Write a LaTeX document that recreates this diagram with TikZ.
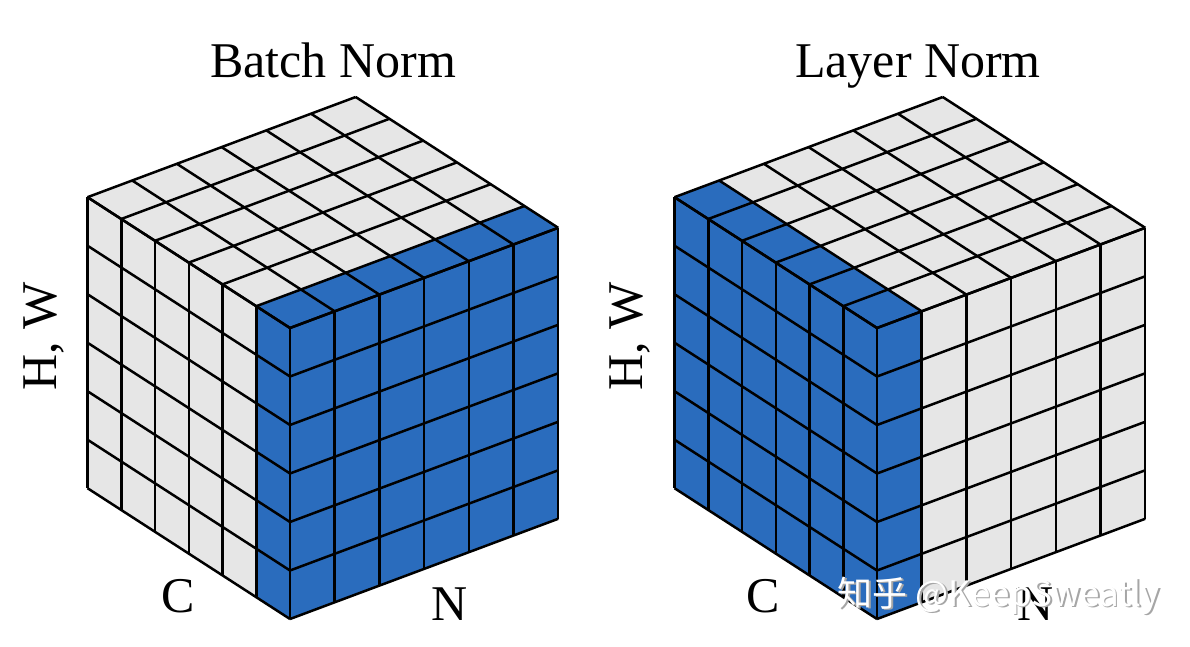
\documentclass[tikz,border=0pt]{standalone}
\usepackage{fontspec}
\setmainfont{Liberation Serif}
\newfontfamily\zhfont{Noto Sans CJK SC}
\definecolor{cellblue}{RGB}{42,108,189}
\definecolor{cellgray}{RGB}{230,230,230}

\begin{document}
\begin{tikzpicture}[x=0.5pt, y=-0.5pt, line width=1.25pt, line join=round,
    axislabel/.style={font=\fontsize{25}{30}\selectfont, anchor=base},
    celllines/.style={draw=black, line width=1.25pt}]
  \useasboundingbox (0,0) rectangle (1190,647);
  % front top corners of the two cubes
  \coordinate (bnF) at (290,328);
  \coordinate (lnF) at (877,328);

  % Batch Norm cube
  \fill[cellgray] (bnF) -- ++(-202.5,-130.8) -- ++(0,291) -- ++(202.5,130.8) -- cycle;
  \fill[cellblue] (bnF) -- ++(-33.75,-21.8) -- ++(0,291) -- ++(33.75,21.8) -- cycle;
  \fill[cellblue] (bnF) -- ++(268.2,-100.2) -- ++(0,291) -- ++(-268.2,100.2) -- cycle;
  \fill[cellgray] (bnF) -- ++(-202.5,-130.8) -- ++(268.2,-100.2) -- ++(202.5,130.8) -- cycle;
  \fill[cellblue] (bnF) -- ++(-33.75,-21.8) -- ++(268.2,-100.2) -- ++(33.75,21.8) -- cycle;

  % Layer Norm cube
  \fill[cellblue] (lnF) -- ++(-202.5,-130.8) -- ++(0,291) -- ++(202.5,130.8) -- cycle;
  \fill[cellgray] (lnF) -- ++(268.2,-100.2) -- ++(0,291) -- ++(-268.2,100.2) -- cycle;
  \fill[cellblue] (lnF) -- ++(44.7,-16.7) -- ++(0,291) -- ++(-44.7,16.7) -- cycle;
  \fill[cellgray] (lnF) -- ++(-202.5,-130.8) -- ++(268.2,-100.2) -- ++(202.5,130.8) -- cycle;
  \fill[cellblue] (lnF) -- ++(-202.5,-130.8) -- ++(44.7,-16.7) -- ++(202.5,130.8) -- cycle;

  % cell lines on the three faces
  \foreach \f in {bnF,lnF}{
    \foreach \i in {0,...,6}{
      \draw[celllines] (\f) ++(-\i*33.75,-\i*21.8) -- ++(0,291);
      \draw[celllines] (\f) ++(0,\i*48.5) -- ++(-202.5,-130.8);
      \draw[celllines] (\f) ++(\i*44.7,-\i*16.7) -- ++(0,291);
      \draw[celllines] (\f) ++(0,\i*48.5) -- ++(268.2,-100.2);
      \draw[celllines] (\f) ++(-\i*33.75,-\i*21.8) -- ++(268.2,-100.2);
      \draw[celllines] (\f) ++(\i*44.7,-\i*16.7) -- ++(-202.5,-130.8);
    }
  }

  % labels
  \node[axislabel] (bntitle) at (333,78) {Batch Norm};
  \node[axislabel] (lntitle) at (918,78) {Layer Norm};
  \node[axislabel, anchor=center, rotate=90] (bnhw) at (44,336) {H, W};
  \node[axislabel, anchor=center, rotate=90] (lnhw) at (630,336) {H, W};
  \node[axislabel] (bnc) at (178,612) {C};
  \node[axislabel] (bnn) at (450,620) {N};
  \node[axislabel] (lnc) at (763,612) {C};
  \node[axislabel] (lnn) at (1036,620) {N};

  % watermark
  \node[font=\zhfont\fontsize{17.5}{20}\selectfont, text=gray!70, anchor=base west] (markshadow) at (831.5,607.5) {知乎 @KeepSweatly};
  \node[font=\zhfont\fontsize{17.5}{20}\selectfont, text=white, anchor=base west] (mark) at (830,606) {知乎 @KeepSweatly};
\end{tikzpicture}
\end{document}
